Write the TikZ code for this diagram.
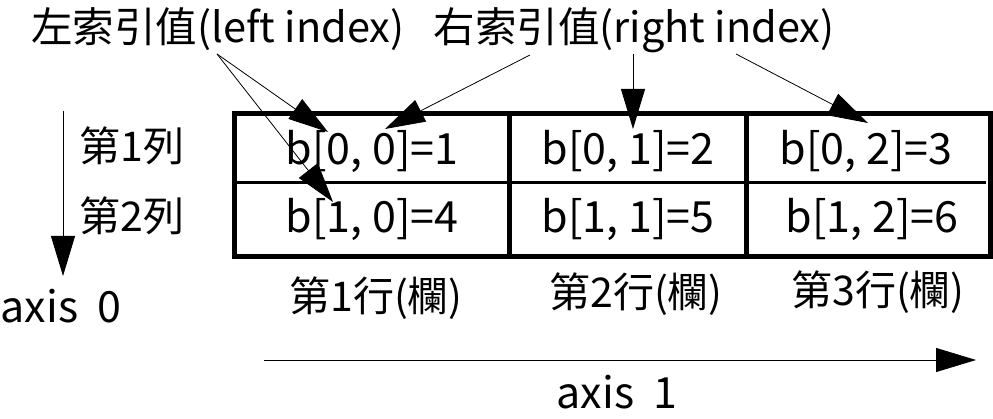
\documentclass[tikz,border=0pt]{standalone}
\usepackage{fontspec}
\setmainfont{Noto Sans CJK TC}
\usetikzlibrary{arrows.meta}
\tikzset{
  lbl/.style={inner sep=0pt, font=\fontsize{41.5}{44}\selectfont},
  cell/.style={inner sep=0pt, font=\fontsize{43}{45}\selectfont},
  cjk/.style={inner sep=0pt, font=\fontsize{41}{43}\selectfont},
  arr/.style={-{Triangle[length=40pt,width=24pt]}, line width=0.8pt},
  thick box/.style={line width=5pt},
}
\begin{document}
\begin{tikzpicture}[x=1pt,y=-1pt]
\useasboundingbox (0,0) rectangle (993,419);
% table
\draw[thick box] (234.5,113.5) rectangle (990,256.5);
\draw[line width=5pt] (509.5,113.5) -- (509.5,256.5);
\draw[line width=5pt] (746.5,113.5) -- (746.5,256.5);
\draw[line width=3pt] (234.5,182.5) -- (986,182.5);
% cells
\node[cell, anchor=base] (c00) at (372,165) {b[0, 0]=1};
\node[cell, anchor=base] (c01) at (628,165) {b[0, 1]=2};
\node[cell, anchor=base] (c02) at (866,165) {b[0, 2]=3};
\node[cell, anchor=base] (c10) at (372,233) {b[1, 0]=4};
\node[cell, anchor=base] (c11) at (628,233) {b[1, 1]=5};
\node[cell, anchor=base] (c12) at (872,233) {b[1, 2]=6};
% row labels
\node[cjk, anchor=base] (r1) at (132,162) {第1列};
\node[cjk, anchor=base] (r2) at (132,232) {第2列};
% column labels
\node[cjk, anchor=base] (k1) at (376,312) {第1行(欄)};
\node[cjk, anchor=base] (k2) at (636,308) {第2行(欄)};
\node[cjk, anchor=base] (k3) at (878,306) {第3行(欄)};
% top labels
\node[lbl, anchor=base] (left) at (218,43) {左索引值(left index)};
\node[lbl, anchor=base] (right) at (634,43) {右索引值(right index)};
% axes
\node[cell, anchor=base] (ax0) at (61,323) {axis\ \ 0};
\node[cell, anchor=base] (ax1) at (617,408) {axis\ \ 1};
\coordinate (a0s) at (63,111);
\coordinate (a0e) at (63,276);
\coordinate (a1s) at (264,360);
\coordinate (a1e) at (976,360);
\draw[arr] (a0s) -- (a0e);
\draw[arr] (a1s) -- (a1e);
% index arrows
\coordinate (ls) at (217,54);
\coordinate (lt1) at (328,132);
\coordinate (lt2) at (333,202);
\coordinate (rs1) at (530,55);
\coordinate (rt1) at (385,129);
\coordinate (rs2) at (633,54);
\coordinate (rt2) at (633,129);
\coordinate (rs3) at (736,54);
\coordinate (rt3) at (868,123);
\draw[arr] (ls) -- (lt1);
\draw[arr] (ls) -- (lt2);
\draw[arr] (rs1) -- (rt1);
\draw[arr] (rs2) -- (rt2);
\draw[arr] (rs3) -- (rt3);
\end{tikzpicture}
\end{document}
